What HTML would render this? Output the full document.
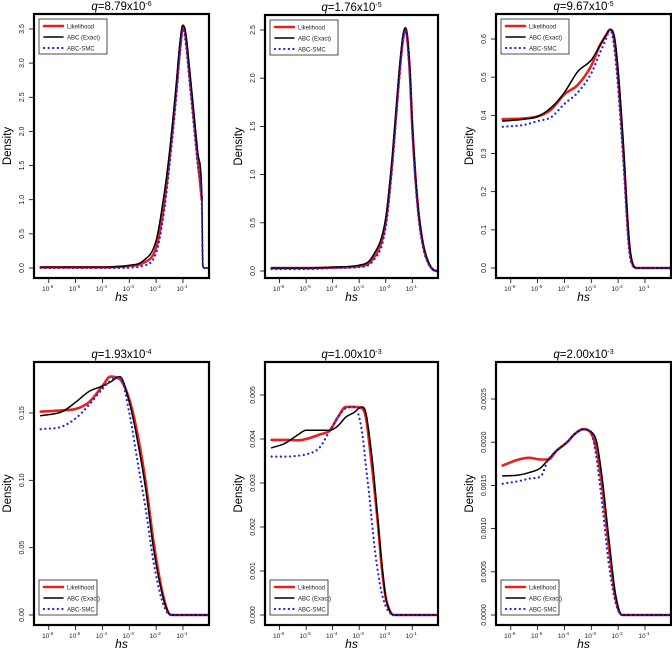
<!DOCTYPE html>
<html><head><meta charset="utf-8"><style>
html,body{margin:0;padding:0;background:#fff;}
svg{display:block;font-family:"Liberation Sans",Arial,sans-serif;}
</style></head><body>
<svg id="fig" width="672" height="650" viewBox="0 0 672 650"></svg>
<script>
// ---- data ----
const titlesMant = ["8.79","1.76","9.67","1.93","1.00","2.00"];
const titlesExp = ["-6","-5","-5","-4","-3","-3"];
const xTickExps = [-6,-5,-4,-3,-2,-1];
const seriesNames = ["Likelihood","ABC (Exact)","ABC-SMC"];

const xs1 = [-6.3,-5,-4,-3.5,-3,-2.5,-2,-1.75,-1.5,-1.25,-1.1,-1,-0.9,-0.75,-0.6,-0.45,-0.3,-0.26,-0.2,-0.05];
const lik1 = [0.01,0.01,0.01,0.015,0.03,0.07,0.3,0.8,1.6,2.6,3.25,3.55,3.4,2.8,2.2,1.6,1.0,null,null,null];
const abc1 = [0.01,0.01,0.01,0.02,0.04,0.1,0.4,0.95,1.7,2.7,3.35,3.55,3.45,2.9,2.3,1.7,1.1,0.03,0,0];
const smc1 = [0,0,0,0,0.005,0.03,0.22,0.7,1.5,2.5,3.2,3.5,3.3,2.7,2.1,1.5,0.9,0.05,0,0];
const yt1 = [0,0.5,1,1.5,2,2.5,3,3.5];

const xs2 = [-6.3,-5,-4,-3,-2.5,-2,-1.75,-1.5,-1.35,-1.26,-1.1,-1,-0.8,-0.6,-0.4,-0.2,-0.05];
const lik2 = [0.03,0.03,0.035,0.05,0.12,0.5,1.15,2.0,2.4,2.52,2.1,1.5,0.7,0.28,0.09,0.01,0];
const abc2 = [0.03,0.03,0.04,0.06,0.15,0.55,1.2,2.05,2.45,2.52,2.15,1.55,0.72,0.3,0.1,0.01,0];
const smc2 = [0.02,0.02,0.03,0.04,0.1,0.45,1.1,1.95,2.4,2.5,2.05,1.45,0.65,0.25,0.08,0.01,0];
const yt2 = [0,0.5,1,1.5,2,2.5];

const xs3 = [-6.3,-5.5,-5,-4.5,-4,-3.5,-3,-2.7,-2.45,-2.3,-2.15,-2,-1.8,-1.6,-1.45,-1.3,-0.05];
const lik3 = [0.39,0.392,0.397,0.415,0.455,0.48,0.53,0.58,0.61,0.625,0.6,0.5,0.3,0.07,0.008,0,0];
const abc3 = [0.385,0.39,0.397,0.42,0.46,0.515,0.545,0.58,0.61,0.625,0.61,0.52,0.32,0.08,0.01,0,0];
const smc3 = [0.37,0.375,0.385,0.395,0.43,0.46,0.51,0.56,0.6,0.625,0.58,0.47,0.27,0.05,0.005,0,0];
const yt3 = [0,0.1,0.2,0.3,0.4,0.5,0.6];

const xs4 = [-6.3,-5.5,-5,-4.5,-4,-3.7,-3.35,-3,-2.7,-2.4,-2.1,-1.8,-1.55,-1.4,-0.05];
const lik4 = [0.151,0.152,0.153,0.158,0.17,0.177,0.175,0.16,0.135,0.1,0.055,0.02,0.002,0,0];
const abc4 = [0.148,0.151,0.158,0.166,0.17,0.173,0.177,0.158,0.13,0.095,0.05,0.018,0.002,0,0];
const smc4 = [0.138,0.14,0.146,0.156,0.168,0.174,0.177,0.15,0.115,0.08,0.04,0.012,0.001,0,0];
const yt4 = [0,0.05,0.10,0.15];

const xs5 = [-6.3,-5.8,-5.3,-5,-4.5,-4.1,-3.8,-3.5,-3.2,-2.9,-2.75,-2.6,-2.45,-2.3,-2.15,-2,-1.85,-1.7,-0.05];
const lik5 = [0.00398,0.00398,0.00397,0.004,0.0041,0.0042,0.0045,0.00473,0.00473,0.0047,0.0045,0.0038,0.003,0.0021,0.0011,0.0004,0.0001,0,0];
const abc5 = [0.0038,0.0039,0.0041,0.0042,0.0042,0.0042,0.0043,0.0045,0.0046,0.00473,0.0046,0.004,0.0032,0.0022,0.0012,0.0004,0.0001,0,0];
const smc5 = [0.0036,0.0036,0.00362,0.00365,0.0038,0.0042,0.0045,0.0047,0.00473,0.0042,0.0034,0.0026,0.0017,0.001,0.0005,0.0002,0.00005,0,0];
const yt5 = [0,0.001,0.002,0.003,0.004,0.005];

const xs6 = [-6.3,-5.7,-5.3,-4.9,-4.6,-4.3,-3.9,-3.6,-3.3,-3.0,-2.8,-2.6,-2.35,-2.1,-1.85,-0.05];
const lik6 = [0.00173,0.0018,0.00182,0.0018,0.0018,0.0019,0.002,0.0021,0.00215,0.0021,0.0019,0.0015,0.0008,0.0002,0,0];
const abc6 = [0.00161,0.00162,0.00165,0.0017,0.0018,0.0019,0.002,0.0021,0.00215,0.00212,0.002,0.0016,0.0009,0.00025,0,0];
const smc6 = [0.00152,0.00155,0.00158,0.0016,0.0018,0.0019,0.002,0.0021,0.00215,0.0021,0.0018,0.0013,0.0006,0.00015,0,0];
const yt6 = [0,0.0005,0.0010,0.0015,0.0020,0.0025];

const panelXs = [xs1,xs2,xs3,xs4,xs5,xs6];
const panelLik = [lik1,lik2,lik3,lik4,lik5,lik6];
const panelAbc = [abc1,abc2,abc3,abc4,abc5,abc6];
const panelSmc = [smc1,smc2,smc3,smc4,smc5,smc6];
const panelYt = [yt1,yt2,yt3,yt4,yt5,yt6];
const ytDigits = [1,1,1,2,3,4];
const yTopVal = [3.5,2.5,0.6,0.15,0.005,0.0025];

// ---- layout ----
const boxes = [
 {l:34,r:209,t:14,b:278,y0:268,yTop:29,legBelow:false},
 {l:265,r:438,t:15,b:278,y0:271,yTop:30,legBelow:false},
 {l:496,r:671,t:14,b:278,y0:268,yTop:39,legBelow:false},
 {l:34,r:209,t:362,b:625,y0:615,yTop:413,legBelow:true},
 {l:265,r:438,t:362,b:625,y0:615,yTop:395,legBelow:true},
 {l:496,r:671,t:362,b:625,y0:615,yTop:399,legBelow:true}
];
const XMIN=-6.55, XMAX=-0.03;
const NS="http://www.w3.org/2000/svg";
const svg=document.getElementById('fig');
function mk(tag,attrs,parent){const e=document.createElementNS(NS,tag);for(const k in attrs)e.setAttribute(k,attrs[k]);(parent||svg).appendChild(e);return e;}

// monotone cubic path through pixel points
function monoPath(P){
  const n=P.length; if(n<2) return '';
  const d=[],m=[];
  for(let k=0;k<n-1;k++){d.push((P[k+1][1]-P[k][1])/(P[k+1][0]-P[k][0]));}
  m[0]=d[0]; m[n-1]=d[n-2];
  for(let k=1;k<n-1;k++){ if(d[k-1]*d[k]<=0) m[k]=0; else { m[k]=(d[k-1]+d[k])/2; const a=m[k]/d[k-1],b=m[k]/d[k],s=a*a+b*b; if(s>9){const t=3/Math.sqrt(s);m[k]=t*a*d[k-1];} } }
  let s='M'+P[0][0].toFixed(1)+','+P[0][1].toFixed(1);
  for(let k=0;k<n-1;k++){const h=(P[k+1][0]-P[k][0])/3;
    s+='C'+(P[k][0]+h).toFixed(1)+','+(P[k][1]+m[k]*h).toFixed(1)+' '+(P[k+1][0]-h).toFixed(1)+','+(P[k+1][1]-m[k+1]*h).toFixed(1)+' '+P[k+1][0].toFixed(1)+','+P[k+1][1].toFixed(1);}
  return s;
}

boxes.forEach((B,i)=>{
  const g=mk('g',{});
  
  
  const xS=v=>B.l+(v-XMIN)/(XMAX-XMIN)*(B.r-B.l);
  const yS=v=>B.y0-(v/yTopVal[i])*(B.y0-B.yTop);
  const cx=(B.l+B.r)/2;
  const tt=mk('text',{x:cx,y:B.t-4,'text-anchor':'middle','font-size':'11.5'},g);
  
  
  const q=mk('tspan',{'font-style':'italic'},tt);q.textContent='q';
  const m=mk('tspan',{},tt);m.textContent='='+titlesMant[i]+'x10';
  const e=mk('tspan',{'font-size':'7',dy:'-4'},tt);e.textContent=titlesExp[i];
  const cols=['#e8211c','#000','#2323d6'];
  const data=[panelLik[i],panelAbc[i],panelSmc[i]];
  const sw=[2.6,1.5,2.2];
  [0,1,2].forEach(s=>{
    const P=[];
    panelXs[i].forEach((xv,k)=>{const v=data[s][k];if(v!==null)P.push([xS(xv),yS(v)]);});
    const p=mk('path',{d:monoPath(P),fill:'none',stroke:cols[s],'stroke-width':sw[s],'stroke-linejoin':'round','stroke-linecap':'round'},g);
    if(s===2){p.setAttribute('stroke-dasharray','0.1 4.5');}
    
    
  });
  const r=mk('rect',{x:B.l,y:B.t,width:B.r-B.l,height:B.b-B.t,fill:'none',stroke:'#000','stroke-width':2.2},g);
  
  
  panelYt[i].forEach(v=>{
    const y=yS(v);
    mk('line',{x1:B.l-1,x2:B.l-5,y1:y,y2:y,stroke:'#000','stroke-width':0.8},g);
    const t=mk('text',{x:0,y:0,'font-size':'7','text-anchor':'middle',fill:'#222',transform:`translate(${B.l-10},${y}) rotate(-90)`},g);
    t.textContent=v.toFixed(ytDigits[i]);
    
    
  });
  const yl=mk('text',{x:0,y:0,'font-size':'11.5','text-anchor':'middle',transform:`translate(${B.l-23},${(B.t+B.b)/2}) rotate(-90)`},g);
  yl.textContent='Density';
  
  
  xTickExps.forEach(ex=>{
    const x=xS(ex);
    mk('line',{x1:x,x2:x,y1:B.b+1,y2:B.b+5,stroke:'#000','stroke-width':0.8},g);
    const t=mk('text',{x:x-1,y:B.b+13,'font-size':'6.5','text-anchor':'middle',fill:'#222'},g);
    
    
    const a=mk('tspan',{},t);a.textContent='10';
    const b=mk('tspan',{'font-size':'4.5',dy:'-3'},t);b.textContent=String(ex);
  });
  const xl=mk('text',{x:cx,y:B.b+23,'font-size':'12','font-style':'italic','text-anchor':'middle'},g);
  xl.textContent='hs';
  
  
  const lw=B.legBelow?58:68, lh=35;
  const lx=B.l+5, ly=B.legBelow?(B.b-45):(B.t+5);
  const lg=mk('g',{},g);
  
  
  mk('rect',{x:lx,y:ly,width:lw,height:lh,fill:'#fff',stroke:'#222','stroke-width':0.8},lg);
  seriesNames.forEach((n,s)=>{
    const yy=ly+7+s*11;
    const ln=mk('line',{x1:lx+5,x2:lx+24,y1:yy,y2:yy,stroke:cols[s],'stroke-width':sw[s],'stroke-linecap':'round'},lg);
    if(s===2)ln.setAttribute('stroke-dasharray','0.1 4.5');
    const t=mk('text',{x:lx+28,y:yy+2.3,'font-size':'6',fill:'#222'},lg);
    t.textContent=n;
    
    
  });
});
</script>
</body></html>
